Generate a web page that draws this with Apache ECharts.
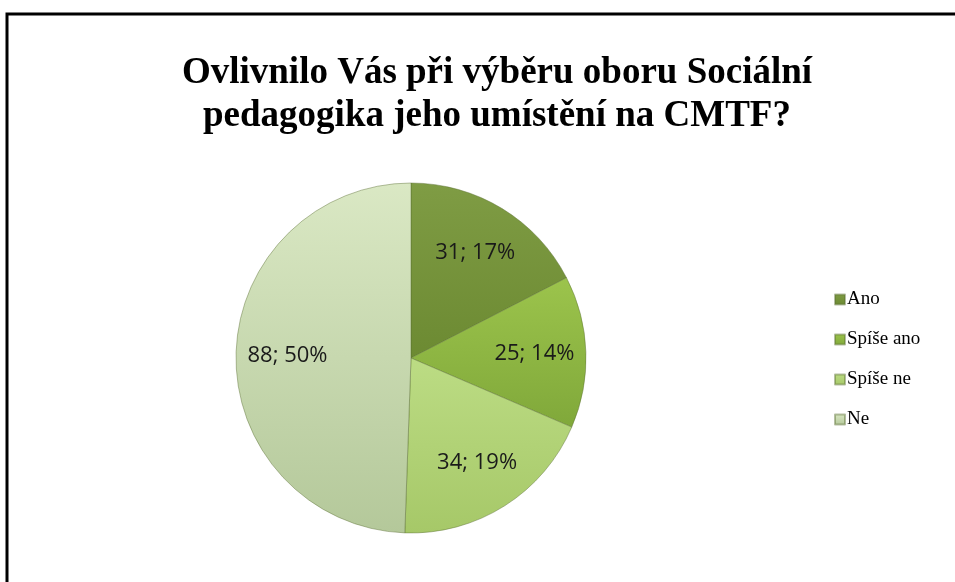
<!DOCTYPE html>
<html>
<head>
<meta charset="utf-8">
<script src="https://cdn.jsdelivr.net/npm/echarts@6/dist/echarts.min.js"></script>
<style>
  html, body { margin: 0; padding: 0; background: #fff; }
  #main { width: 955px; height: 582px; }
</style>
</head>
<body>
<div id="main"></div>
<script>
// data
var categories = ['Ano', 'Spíše ano', 'Spíše ne', 'Ne'];
var counts = [31, 25, 34, 88];
// slice colours (top, bottom of the gradient)
var colorsTop = ['#7f9c44', '#9cc44c', '#bcdc84', '#dae8c4'];
var colorsBottom = ['#6c8a32', '#80a83a', '#a6c868', '#b4c89a'];

var pieData = categories.map(function (name, i) {
  return {
    name: name,
    value: counts[i],
    itemStyle: {
      color: new echarts.graphic.LinearGradient(0, 0, 0, 1, [
        { offset: 0, color: colorsTop[i] },
        { offset: 1, color: colorsBottom[i] }
      ])
    }
  };
});

var chart = echarts.init(document.getElementById('main'));

var option = {
  animation: false,
  title: {
    text: 'Ovlivnilo Vás při výběru oboru Sociální\npedagogika jeho umístění na CMTF?',
    left: 492,
    top: 47,
    textAlign: 'center',
    textStyle: {
      fontFamily: 'Liberation Serif',
      fontWeight: 'bold',
      fontSize: 37,
      lineHeight: 43,
      color: '#000'
    }
  },
  legend: {
    orient: 'vertical',
    left: 829,
    top: 285,
    itemWidth: 10,
    itemHeight: 10,
    itemGap: 21,
    icon: 'rect',
    textStyle: {
      fontFamily: 'Liberation Serif',
      fontSize: 19,
      lineHeight: 19,
      color: '#000',
      padding: [0, 0, 0, -3]
    },
    data: categories
  },
  graphic: [
    {
      type: 'polyline',
      shape: { points: [[7, 600], [7, 14], [960, 14]] },
      style: { stroke: '#000', lineWidth: 3, fill: null }
    }
  ],
  series: [
    {
      type: 'pie',
      center: [411, 358],
      radius: 175,
      startAngle: 90,
      clockwise: true,
      silent: true,
      label: { show: false },
      labelLine: { show: false },
      itemStyle: { borderColor: 'rgba(90,110,50,0.45)', borderWidth: 1 },
      data: pieData
    },
    {
      // label layer: a transparent ring so the labels sit further out
      type: 'pie',
      center: [411, 358],
      radius: [66, 175],
      startAngle: 90,
      clockwise: true,
      silent: true,
      percentPrecision: 0,
      legendHoverLink: false,
      itemStyle: { color: 'rgba(0,0,0,0)', borderWidth: 0 },
      label: {
        show: true,
        position: 'inside',
        formatter: '{c}; {d}%',
        fontFamily: 'Open Sans',
        fontSize: 22,
        color: '#1a1a1a'
      },
      labelLine: { show: false },
      data: categories.map(function (name, i) { return { name: name, value: counts[i] }; })
    }
  ]
};

chart.setOption(option);
</script>
</body>
</html>
